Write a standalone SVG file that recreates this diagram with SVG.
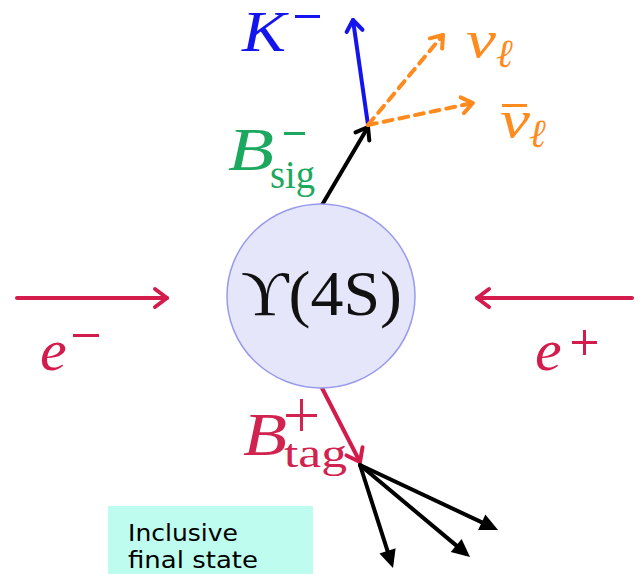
<svg xmlns="http://www.w3.org/2000/svg" width="638" height="574" viewBox="0 0 638 574">
<style>
.m{font-family:"Liberation Serif","DejaVu Serif",serif;font-style:italic}
.r{font-family:"Liberation Serif","DejaVu Serif",serif}
.red{fill:#d41c4c}
.ln{fill:none;stroke-width:4;stroke-linecap:round}
.cap{font-family:"DejaVu Sans","Liberation Sans",sans-serif;font-size:23px;fill:#000}
</style>
<defs>
<marker id="chR" markerUnits="userSpaceOnUse" markerWidth="30" markerHeight="30" refX="15" refY="15" orient="auto" viewBox="0 0 30 30" overflow="visible">
<path d="M3 6 L15 15 L3 24" fill="none" stroke="#d41c4c" stroke-width="4" stroke-linecap="round" stroke-linejoin="round"/>
</marker>
<marker id="chB" markerUnits="userSpaceOnUse" markerWidth="30" markerHeight="30" refX="15" refY="15" orient="auto" viewBox="0 0 30 30" overflow="visible">
<path d="M4 7 L15 15 L4 23" fill="none" stroke="#1414ee" stroke-width="4" stroke-linecap="round" stroke-linejoin="round"/>
</marker>
<marker id="chO" markerUnits="userSpaceOnUse" markerWidth="30" markerHeight="30" refX="15" refY="15" orient="auto" viewBox="0 0 30 30" overflow="visible">
<path d="M4 7 L15 15 L4 23" fill="none" stroke="#ff8a1e" stroke-width="4" stroke-linecap="round" stroke-linejoin="round"/>
</marker>
<marker id="chK" markerUnits="userSpaceOnUse" markerWidth="30" markerHeight="30" refX="15" refY="15" orient="auto" viewBox="0 0 30 30" overflow="visible">
<path d="M4 7 L15 15 L4 23" fill="none" stroke="#000" stroke-width="4" stroke-linecap="round" stroke-linejoin="round"/>
</marker>
<marker id="tri" markerUnits="userSpaceOnUse" markerWidth="30" markerHeight="30" refX="12" refY="15" orient="auto" viewBox="0 0 30 30" overflow="visible">
<path d="M0 6.5 L18 15 L0 23.5 Z" fill="#000"/>
</marker>
</defs>

<g id="connectors">
<line class="ln" x1="17" y1="298" x2="167" y2="298" stroke="#d41c4c" marker-end="url(#chR)"/>
<line class="ln" x1="632" y1="298" x2="477" y2="298" stroke="#d41c4c" marker-end="url(#chR)"/>
<line class="ln" x1="322" y1="205" x2="368" y2="127" stroke="#000" marker-end="url(#chK)"/>
<line class="ln" x1="368" y1="125" x2="353" y2="20" stroke="#1414ee" marker-end="url(#chB)"/>
<line class="ln" x1="368" y1="125" x2="443" y2="35" stroke="#ff8a1e" stroke-dasharray="9 7" stroke-linecap="butt" marker-end="url(#chO)"/>
<line class="ln" x1="368" y1="125" x2="473" y2="103" stroke="#ff8a1e" stroke-dasharray="9 7" stroke-linecap="butt" marker-end="url(#chO)"/>
<line class="ln" x1="322" y1="388" x2="360" y2="462" stroke="#d41c4c" marker-end="url(#chR)"/>
<line class="ln" x1="360" y1="465" x2="492.6" y2="527.4" stroke="#000" marker-end="url(#tri)"/>
<line class="ln" x1="360" y1="465" x2="465.4" y2="553.1" stroke="#000" marker-end="url(#tri)"/>
<line class="ln" x1="360" y1="465" x2="391.2" y2="562.3" stroke="#000" marker-end="url(#tri)"/>
</g>

<g id="upsilon">
<ellipse cx="321" cy="296" rx="94" ry="92" fill="#e6e6fb" stroke="#9a9aec" stroke-width="1.5"/>
<text class="r" x="241" y="315" font-size="64" textLength="161" lengthAdjust="spacingAndGlyphs" fill="#111">ϒ(4S)</text>
</g>

<g id="eminus">
<text class="m red" x="40" y="370" font-size="60">e</text>
<rect x="73" y="334" width="26" height="3" fill="#d41c4c"/>
</g>

<g id="eplus">
<text class="m red" x="535" y="370" font-size="60">e</text>
<rect x="572" y="341" width="25" height="3" fill="#d41c4c"/>
<rect x="583" y="330" width="3" height="25" fill="#d41c4c"/>
</g>

<g id="bsig">
<text class="m" x="228" y="170" font-size="62" textLength="46" lengthAdjust="spacingAndGlyphs" fill="#1ca85e">B</text>
<rect x="284" y="132" width="21" height="3" fill="#1ca85e"/>
<text class="r" x="270" y="188" font-size="40" textLength="45" lengthAdjust="spacingAndGlyphs" fill="#1ca85e">sig</text>
</g>

<g id="kminus">
<text class="m" x="242" y="51" font-size="56" textLength="44" lengthAdjust="spacingAndGlyphs" fill="#1414ee">K</text>
<rect x="295" y="15" width="25" height="3" fill="#1414ee"/>
</g>

<g id="nu">
<text class="m" x="466" y="57" font-size="52" textLength="30" lengthAdjust="spacingAndGlyphs" fill="#ff8a1e">ν</text>
<text class="m" x="496" y="67" font-size="40" fill="#ff8a1e">ℓ</text>
</g>

<g id="nubar">
<rect x="502" y="104" width="25" height="3" fill="#ff8a1e"/>
<text class="m" x="500" y="137" font-size="52" textLength="30" lengthAdjust="spacingAndGlyphs" fill="#ff8a1e">ν</text>
<text class="m" x="529" y="147" font-size="40" fill="#ff8a1e">ℓ</text>
</g>

<g id="btag">
<text class="m" x="243" y="455" font-size="62" textLength="44" lengthAdjust="spacingAndGlyphs" fill="#d0234f">B</text>
<rect x="286" y="414" width="31" height="3" fill="#d0234f"/>
<rect x="300" y="399" width="3" height="32" fill="#d0234f"/>
<text class="r" x="284" y="467" font-size="40" textLength="63" lengthAdjust="spacingAndGlyphs" fill="#d0234f">tag</text>
</g>

<g id="inclusive">
<rect x="108" y="506" width="205" height="68" fill="#bdfcee"/>
<text class="cap" x="128" y="541" textLength="110" lengthAdjust="spacingAndGlyphs">Inclusive</text>
<text class="cap" x="128" y="568" textLength="130" lengthAdjust="spacingAndGlyphs">final state</text>
</g>
</svg>
